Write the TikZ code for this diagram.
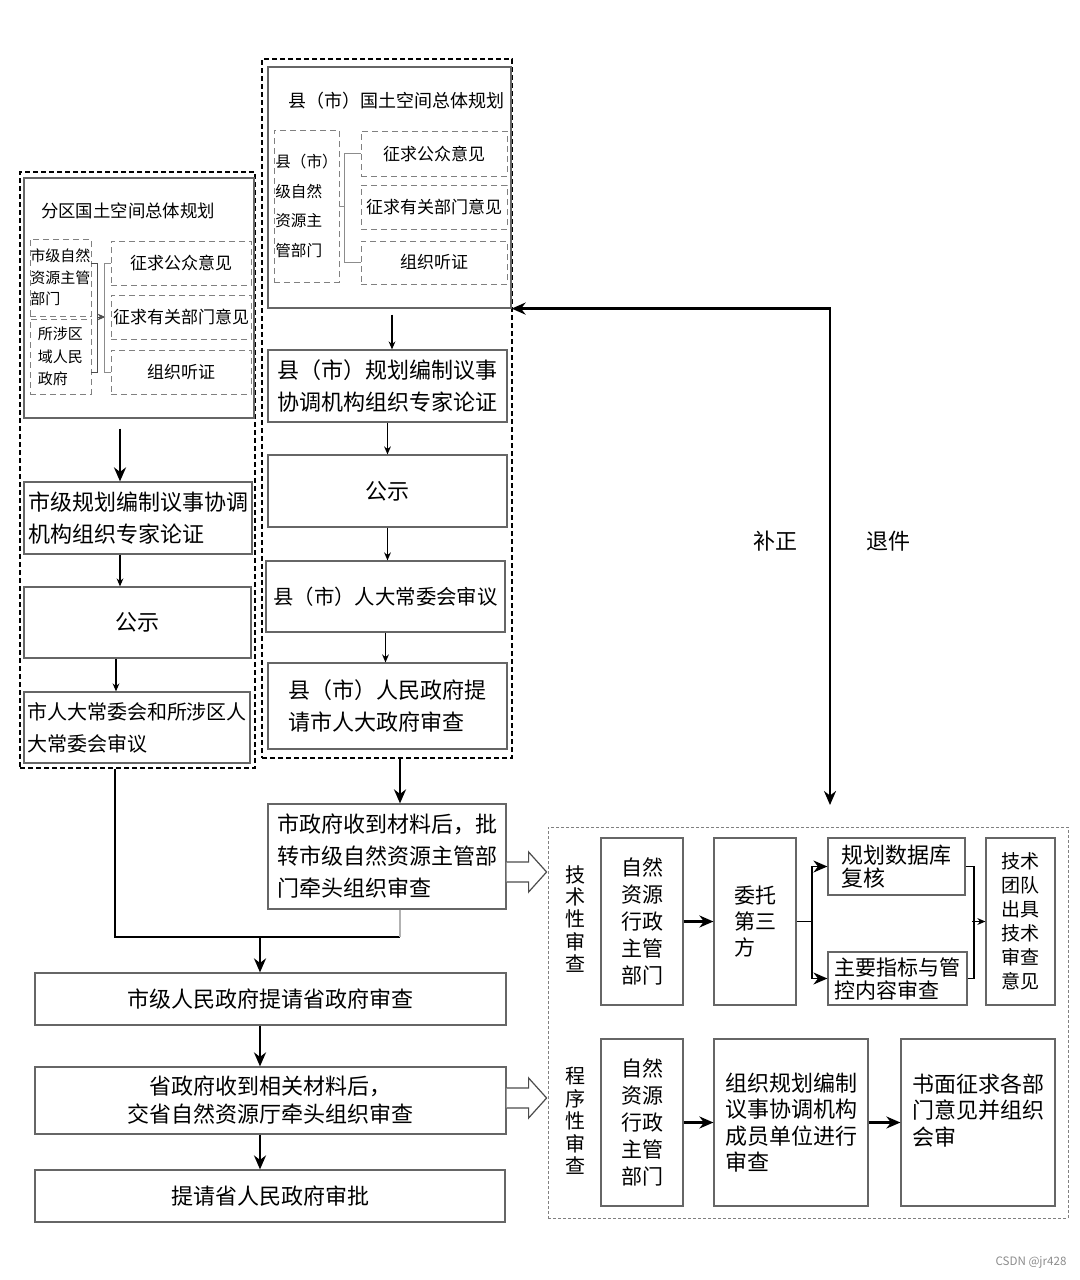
\documentclass[tikz,border=0pt]{standalone}
\usepackage{fontspec}
\setmainfont{Noto Sans CJK SC}
\usetikzlibrary{fit,arrows.meta}

\tikzset{
  spot/.style args={#1/#2/#3/#4}{at={({(#1+#3)/2},{(#2+#4)/2})},
    minimum width={(#3-#1)*0.5pt}, minimum height={(#4-#2)*0.5pt}},
  box/.style={draw=black!60, line width=.6pt, inner sep=0pt, align=left,
    font=\fontsize{11}{16}\selectfont},
  subbox/.style={draw=black!50, densely dashed, line width=.4pt, inner sep=0pt,
    align=left, font=\fontsize{8.5}{11}\selectfont},
  panel/.style={draw=black, dash pattern=on 2.5pt off 1.5pt, line width=.7pt,
    inner sep=0pt},
  revpanel/.style={draw=black!50, dash pattern=on 1.5pt off 1pt, line width=.5pt,
    inner sep=0pt},
  bracket/.style={draw=black!45, line width=.5pt},
  flow/.style={->, >={Stealth[length=4pt,width=3.4pt]}, line width=.6pt},
  mainflow/.style={->, >={Stealth[length=7pt,width=6pt]}, line width=1.3pt},
  hollow/.style={draw=black!70, line width=.6pt, fill=white},
  vlabel/.style={align=center, font=\fontsize{10}{11.2}\selectfont},
}

\begin{document}
\begin{tikzpicture}[x=.5pt,y=-.5pt]
\useasboundingbox (0,0) rectangle (1080,1280);

% district plan
\node[panel, spot=20/172/255/768] (dpanel) {};
\node[box, spot=24/178/254/418] (dplan) {};
\node[font=\fontsize{8.7}{10}\selectfont] (dtitle) at (128,211) {分区国土空间总体规划};
\node[subbox, font=\fontsize{7.5}{10.8}\selectfont, spot=30/239/91/316] (dcity) {市级自然\\资源主管\\部门};
\node[subbox, font=\fontsize{7.5}{11.2}\selectfont, spot=30/319/91/394] (dgov) {所涉区\\域人民\\政府};
\node[subbox, spot=111/241/251/285] (dpub)  {征求公众意见};
\node[subbox, spot=111/295/251/339] (ddept) {征求有关部门意见};
\node[subbox, spot=111/350/251/394] (dhear) {组织听证};
\draw[black!70, line width=.5pt] (dcity.east |- dpub) -- ++(6,0) |- (dgov.east |- dhear);
\draw[flow, black!70, line width=.4pt] (dcity.east |- ddept) ++(6,0) -- ++(8,0);
\draw[bracket] (dpub.west) -- ++(-6,0) |- (dhear.west);

\node[box, spot=24/482/252/554] (dexpert) {市级规划编制议事协调\\机构组织专家论证};
\node[box, spot=24/587/251/658] (dpublic) {公示};
\node[box, font=\fontsize{10}{16}\selectfont, spot=24/692/250/763] (dnpc) {市人大常委会和所涉区人\\大常委会审议};
\draw[mainflow, shorten <=5pt] (dplan.south -| 120,0) -- (dexpert.north -| 120,0);
\draw[flow] (dexpert.south -| 120,0) -- (dpublic.north -| 120,0);
\draw[flow] (dpublic.south -| 116,0) -- (dnpc.north -| 116,0);

% county plan
\node[panel, spot=262/59/512/758] (cpanel) {};
\node[box, spot=268/67/511/308] (cplan) {};
\node[font=\fontsize{9}{10}\selectfont] (ctitle) at (396,101) {县（市）国土空间总体规划};
\node[subbox, font=\fontsize{7.8}{14.8}\selectfont, spot=274/130/339/282] (cdept) {县（市）\\级自然\\资源主\\管部门};
\node[subbox, spot=361/131/507/176] (cpub)   {征求公众意见};
\node[subbox, spot=361/185/507/229] (cdepts) {征求有关部门意见};
\node[subbox, spot=361/241/507/284] (chear)  {组织听证};
\draw[bracket] (cdept.east) -- ++(6,0);
\draw[bracket] (cpub.west) -- ++(-16,0) |- (chear.west);

\node[box, spot=268/350/507/422] (cexpert) {县（市）规划编制议事\\协调机构组织专家论证};
\node[box, spot=268/455/507/527] (cpublic) {公示};
\node[box, font=\fontsize{10.2}{16}\selectfont, spot=266/561/505/632] (cnpc) {县（市）人大常委会审议};
\node[box, spot=268/663/507/749] (cgov) {县（市）人民政府提\\请市人大政府审查};
\draw[flow, shorten <=3pt] (cplan.south -| 392,0) -- (cexpert.north -| 392,0);
\draw[flow] (cexpert) -- (cpublic);
\draw[flow] (cpublic.south) -- (cpublic.south |- cnpc.north);
\draw[flow] (cnpc.south) -- (cnpc.south |- cgov.north);

% city and province
\node[box, spot=268/804/506/909] (citygov) {市政府收到材料后，批\\转市级自然资源主管部\\门牵头组织审查};
\node[box, align=center, spot=35/973/506/1025] (cityprop) {市级人民政府提请省政府审查};
\node[box, align=center, font=\fontsize{11}{14}\selectfont, spot=35/1067/506/1134] (provgov) {省政府收到相关材料后，\\交省自然资源厅牵头组织审查};
\node[box, spot=35/1170/505/1222] (provapp) {提请省人民政府审批};

\coordinate (jl) at (115,937);
\coordinate (jm) at (260,937);
\coordinate (jr) at (400,937);
\draw[mainflow] (cpanel.south -| jr) -- (citygov.north -| jr);
\draw[line width=1.3pt] (dpanel.south -| jl) -- (jl) -- (jr);
\draw[black!30, line width=.6pt] (citygov.south -| jr) -- (jr);
\draw[mainflow] (jm) -- (cityprop.north -| jm);
\draw[mainflow] (cityprop.south -| jm) -- (provgov.north -| jm);
\draw[mainflow] (provgov.south -| jm) -- (provapp.north -| jm);

\draw[hollow] (citygov.east |- 0,872) ++(0,-10) -- ++(22,0) -- ++(0,-10) -- ++(18,20)
  -- ++(-18,20) -- ++(0,-10) -- ++(-22,0);
\draw[hollow] (provgov.east |- 0,1098) ++(0,-10) -- ++(22,0) -- ++(0,-10) -- ++(18,20)
  -- ++(-18,20) -- ++(0,-10) -- ++(-22,0);

% review panel
\node[revpanel, spot=548/827/1068/1218] (review) {};

\node[vlabel] (tech) at (575,919) {技\\术\\性\\审\\查};
\node[box, font=\fontsize{10.5}{13.5}\selectfont, spot=601/838/683/1005] (tnature) {自然\\资源\\行政\\主管\\部门};
\node[box, font=\fontsize{10.5}{13.2}\selectfont, spot=714/838/796/1005] (tentrust) {委托\\第三\\方};
\node[box, font=\fontsize{11}{11.5}\selectfont, spot=828/838/965/895] (tdata) {规划数据库\\复核};
\node[box, font=\fontsize{10.5}{11.5}\selectfont, spot=828/952/967/1005] (tindex) {主要指标与管\\控内容审查};
\node[box, font=\fontsize{9.5}{12}\selectfont, spot=986/838/1055/1005] (tteam) {技术\\团队\\出具\\技术\\审查\\意见};
\draw[mainflow] (tnature) -- (tentrust);
\draw[line width=.9pt] (tentrust.east) -- ++(15,0) coordinate (tsplit);
\draw[mainflow, line width=.9pt] (tsplit) |- (tdata.west);
\draw[mainflow, line width=.9pt] (tsplit) |- (tindex.west);
\draw[line width=.9pt] (tdata.east) -- ++(8,0) |- (tindex.east);
\draw[flow] (tteam.west) ++(-13,0) -- (tteam.west);

\node[vlabel] (proc) at (575,1121) {程\\序\\性\\审\\查};
\node[box, font=\fontsize{10.5}{13.5}\selectfont, spot=601/1039/683/1206] (pnature) {自然\\资源\\行政\\主管\\部门};
\node[box, font=\fontsize{11}{13.2}\selectfont, spot=714/1039/868/1206] (porg) {组织规划编制\\议事协调机构\\成员单位进行\\审查};
\node[box, font=\fontsize{11}{13.2}\selectfont, spot=901/1039/1055/1206] (pwrite) {书面征求各部\\门意见并组织\\会审\\ \mbox{}};
\draw[mainflow] (pnature) -- (porg);
\draw[mainflow] (porg) -- (pwrite);

% correction / return
\coordinate (retn) at (830,805);
\draw[mainflow, <->] (retn) |- (cplan.south east);
\node[font=\fontsize{11}{12}\selectfont] (fix) at (775,541) {补正};
\node[font=\fontsize{11}{12}\selectfont] (ret) at (888,541) {退件};

\node[text=black!45, font=\fontsize{5.8}{6}\selectfont] (mark) at (1031,1262) {CSDN @jr428};
\end{tikzpicture}
\end{document}
